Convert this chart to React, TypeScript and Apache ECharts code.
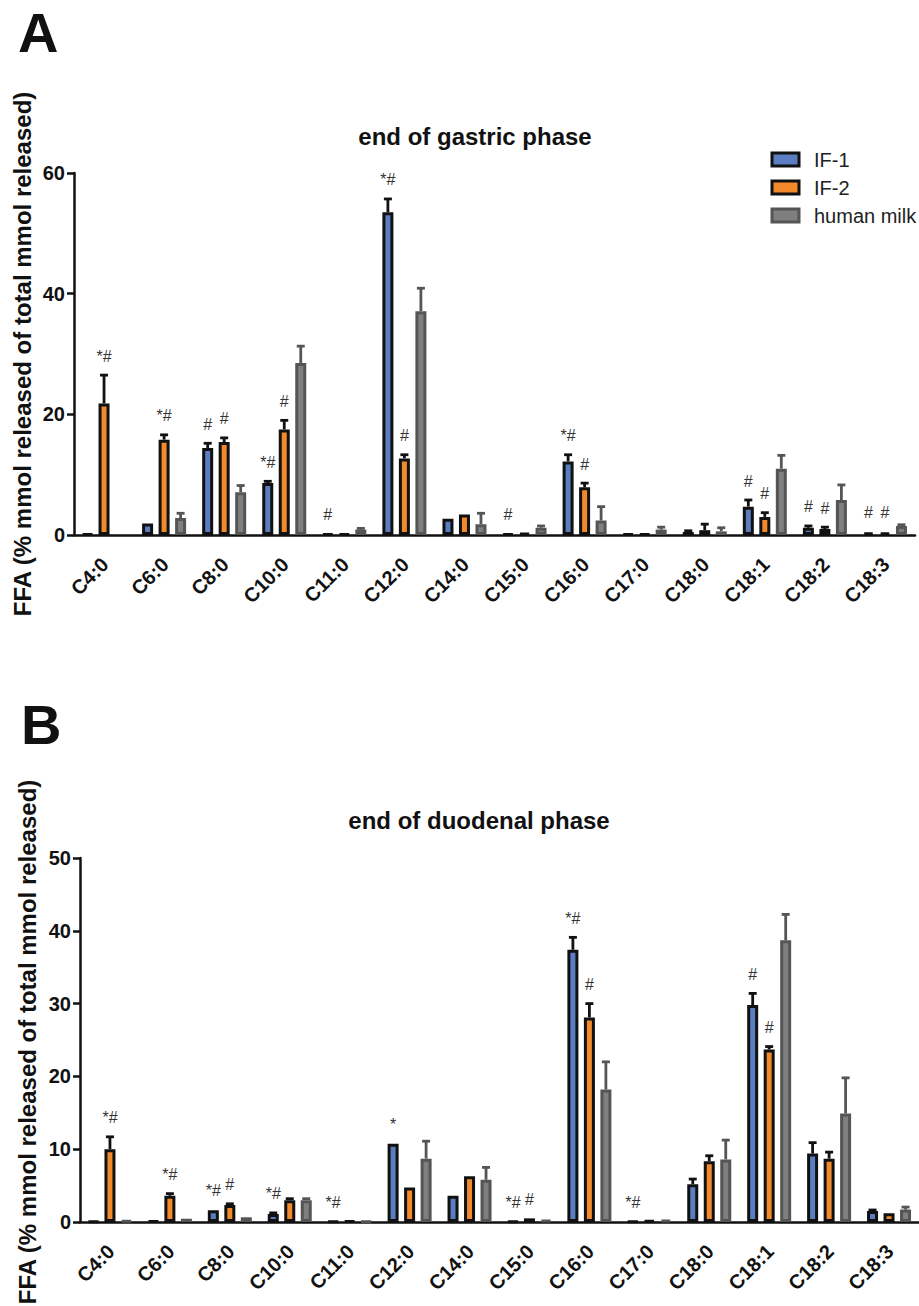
import React, { useEffect, useRef } from "react";
import * as echarts from "echarts";

// ---------- data ----------
const categories = ["C4:0", "C6:0", "C8:0", "C10:0", "C11:0", "C12:0", "C14:0", "C15:0", "C16:0", "C17:0", "C18:0", "C18:1", "C18:2", "C18:3"];
const seriesNames = ["IF-1", "IF-2", "human milk"];

// Panel A: end of gastric phase (mean, SEM-up)
const gastricIF1 = [0.2, 1.9, 14.4, 8.6, 0.2, 53.5, 2.7, 0.2, 12.2, 0.2, 0.5, 4.7, 1.2, 0.4];
const gastricIF1Err = [0, 0, 0.8, 0.3, 0, 2.2, 0.1, 0, 1.1, 0, 0.2, 1.1, 0.3, 0.1];
const gastricIF2 = [21.8, 15.8, 15.4, 17.5, 0.2, 12.7, 3.4, 0.3, 7.9, 0.2, 0.8, 3.0, 1.0, 0.4];
const gastricIF2Err = [4.7, 0.8, 0.7, 1.5, 0, 0.6, 0.1, 0, 0.7, 0, 1.0, 0.7, 0.3, 0.1];
const gastricHM = [null, 2.8, 7.1, 28.5, 0.9, 37.1, 1.8, 1.2, 2.4, 0.9, 0.6, 11.0, 5.8, 1.5];
const gastricHMErr = [0, 0.8, 1.1, 2.8, 0.2, 3.8, 1.8, 0.3, 2.3, 0.4, 0.6, 2.2, 2.5, 0.2];
const gastricIF1Sig = ["", "", "#", "*#", "#", "*#", "", "#", "*#", "", "", "#", "#", "#"];
const gastricIF2Sig = ["*#", "*#", "#", "#", "", "#", "", "", "#", "", "", "#", "#", "#"];
const gastricHMSig = ["", "", "", "", "", "", "", "", "", "", "", "", "", ""];
const gastricTicks = { min: 0, max: 60, interval: 20 };

// Panel B: end of duodenal phase
const duodenalIF1 = [0.1, 0.15, 1.6, 1.1, 0.1, 10.75, 3.6, 0.1, 37.4, 0.1, 5.2, 29.8, 9.4, 1.5];
const duodenalIF1Err = [0, 0, 0.1, 0.15, 0, 0.1, 0.1, 0, 1.7, 0, 0.7, 1.6, 1.5, 0.15];
const duodenalIF2 = [10.0, 3.6, 2.35, 3.0, 0.15, 4.75, 6.3, 0.5, 28.1, 0.2, 8.35, 23.7, 8.7, 1.2];
const duodenalIF2Err = [1.7, 0.3, 0.15, 0.2, 0, 0.1, 0.1, 0, 1.9, 0, 0.75, 0.4, 0.9, 0.1];
const duodenalHM = [0.2, 0.45, 0.65, 3.0, 0.1, 8.7, 5.8, 0.25, 18.2, 0.3, 8.6, 38.7, 14.9, 1.7];
const duodenalHMErr = [0, 0, 0.1, 0.2, 0, 2.4, 1.7, 0, 3.8, 0, 2.65, 3.55, 4.9, 0.35];
const duodenalIF1Sig = ["", "", "*#", "*#", "*#", "*", "", "*#", "*#", "*#", "", "#", "", ""];
const duodenalIF2Sig = ["*#", "*#", "#", "", "", "", "", "#", "#", "", "", "#", "", ""];
const duodenalHMSig = ["", "", "", "", "", "", "", "", "", "", "", "", "", ""];
const duodenalTicks = { min: 0, max: 50, interval: 10 };

const panelTitles = ["end of gastric phase", "end of duodenal phase"];
const yTitle = "FFA (% mmol released of total mmol released)";

// ---------- styling ----------
const FONT = '"Liberation Sans", Arial, Helvetica, sans-serif';
const STYLES = [
  { color: "#5b7ec2", border: "#111111", err: "#111111" },
  { color: "#f28a2c", border: "#111111", err: "#111111" },
  { color: "#7f7f7f", border: "#555555", err: "#555555" },
];
const BAR_W = 11;
const OFFSETS = [-16.5, 0, 16.5];

const panels = [
  {
    grid: { left: 74, width: 841, top: 173, height: 362 },
    ticks: gastricTicks,
    means: [gastricIF1, gastricIF2, gastricHM],
    errs: [gastricIF1Err, gastricIF2Err, gastricHMErr],
    sigs: [gastricIF1Sig, gastricIF2Sig, gastricHMSig],
  },
  {
    grid: { left: 80, width: 839, top: 858, height: 364 },
    ticks: duodenalTicks,
    means: [duodenalIF1, duodenalIF2, duodenalHM],
    errs: [duodenalIF1Err, duodenalIF2Err, duodenalHMErr],
    sigs: [duodenalIF1Sig, duodenalIF2Sig, duodenalHMSig],
  },
];

function buildOption() {
  const grids: any[] = [];
  const xAxes: any[] = [];
  const yAxes: any[] = [];
  const series: any[] = [];

  panels.forEach((p, g) => {
    grids.push({ ...p.grid, containLabel: false });
    xAxes.push({
      type: "category",
      gridIndex: g,
      data: categories,
      axisLine: { lineStyle: { color: "#111", width: 2.5 } },
      axisTick: { alignWithLabel: true, length: 8, lineStyle: { color: "#111", width: 2.5 } },
      axisLabel: { show: false, interval: 0 },
    });
    yAxes.push({
      type: "value",
      gridIndex: g,
      min: p.ticks.min,
      max: p.ticks.max,
      interval: p.ticks.interval,
      splitLine: { show: false },
      axisLine: { show: true, lineStyle: { color: "#111", width: 2.5 } },
      axisTick: { show: true, length: 7, lineStyle: { color: "#111", width: 2.5 } },
      axisLabel: { margin: 9, color: "#111", fontWeight: "bold", fontSize: 20, fontFamily: FONT },
    });

    // category labels, rotated 45 degrees, anchored under each tick
    series.push({
      type: "custom",
      name: "category labels",
      xAxisIndex: g,
      yAxisIndex: g,
      clip: false,
      z: 5,
      encode: { x: 0, y: 1 },
      data: categories.map((c, i) => [i, 0]),
      renderItem: (params: any, api: any) => {
        const pt = api.coord([api.value(0), 0]);
        return {
          type: "text",
          x: pt[0] + 1,
          y: pt[1] + 26,
          rotation: Math.PI / 4,
          style: {
            text: categories[params.dataIndex],
            fill: "#111",
            fontSize: 20,
            fontWeight: "bold",
            fontFamily: FONT,
            align: "right",
            verticalAlign: "middle",
          },
        };
      },
    });

    seriesNames.forEach((name, s) => {
      const st = STYLES[s];
      const means = p.means[s];
      const errs = p.errs[s];
      const sigs = p.sigs[s];
      series.push({
        type: "bar",
        name,
        xAxisIndex: g,
        yAxisIndex: g,
        data: means,
        barWidth: BAR_W,
        barGap: "50%",
        itemStyle: { color: st.color, borderColor: st.border, borderWidth: 3 },
        z: 2,
      });
      // error bars (upper whisker only)
      series.push({
        type: "custom",
        name: name + " error",
        xAxisIndex: g,
        yAxisIndex: g,
        clip: false,
        z: 3,
        encode: { x: 0, y: [1, 2] },
        data: means.map((m, i) => [i, m == null ? 0 : m, (m == null ? 0 : m) + errs[i]]),
        renderItem: (params: any, api: any) => {
          const i = api.value(0);
          const lo = api.coord([i, api.value(1)]);
          const hi = api.coord([i, api.value(2)]);
          if (lo[1] - hi[1] < 1) return { type: "group", children: [] };
          const x = lo[0] + OFFSETS[s];
          const style = { stroke: st.err, lineWidth: 2.8 };
          return {
            type: "group",
            children: [
              { type: "line", shape: { x1: x, y1: lo[1], x2: x, y2: hi[1] }, style },
              { type: "line", shape: { x1: x - 4, y1: hi[1], x2: x + 4, y2: hi[1] }, style },
            ],
          };
        },
      });
      // significance markers
      series.push({
        type: "custom",
        name: name + " significance",
        xAxisIndex: g,
        yAxisIndex: g,
        clip: false,
        z: 4,
        encode: { x: 0, y: 1 },
        data: means.map((m, i) => [i, (m == null ? 0 : m) + errs[i]]),
        renderItem: (params: any, api: any) => {
          const label = sigs[params.dataIndex];
          if (!label) return { type: "group", children: [] };
          const pt = api.coord([api.value(0), api.value(1)]);
          return {
            type: "text",
            x: pt[0] + OFFSETS[s],
            y: pt[1] - 19,
            style: {
              text: label,
              fill: "#333",
              fontSize: 16,
              fontFamily: FONT,
              align: "center",
              verticalAlign: "middle",
            },
          };
        },
      });
    });
  });

  const legendItems: any[] = [];
  seriesNames.forEach((name, s) => {
    const y = 153 + s * 28;
    legendItems.push({
      type: "rect",
      x: 772,
      y,
      shape: { width: 27, height: 13 },
      style: { fill: STYLES[s].color, stroke: STYLES[s].border, lineWidth: 3 },
    });
    legendItems.push({
      type: "text",
      x: 814,
      y: y + 7,
      style: { text: name, fill: "#222", fontSize: 20, fontFamily: FONT, align: "left", verticalAlign: "middle" },
    });
  });

  const graphic: any[] = [
    { type: "text", x: 18, y: 32, style: { text: "A", fill: "#111", fontSize: 56, fontWeight: "bold", fontFamily: FONT, align: "left", verticalAlign: "middle" } },
    { type: "text", x: 21, y: 724, style: { text: "B", fill: "#111", fontSize: 56, fontWeight: "bold", fontFamily: FONT, align: "left", verticalAlign: "middle" } },
    { type: "text", x: 475, y: 136, style: { text: panelTitles[0], fill: "#111", fontSize: 24, fontWeight: "bold", fontFamily: FONT, align: "center", verticalAlign: "middle" } },
    { type: "text", x: 479, y: 820, style: { text: panelTitles[1], fill: "#111", fontSize: 24, fontWeight: "bold", fontFamily: FONT, align: "center", verticalAlign: "middle" } },
    { type: "text", x: 22, y: 354, rotation: Math.PI / 2, style: { text: yTitle, fill: "#111", fontSize: 24, fontWeight: "bold", fontFamily: FONT, align: "center", verticalAlign: "middle" } },
    { type: "text", x: 27, y: 1042, rotation: Math.PI / 2, style: { text: yTitle, fill: "#111", fontSize: 24, fontWeight: "bold", fontFamily: FONT, align: "center", verticalAlign: "middle" } },
    ...legendItems,
  ];

  return {
    animation: false,
    backgroundColor: "#ffffff",
    grid: grids,
    xAxis: xAxes,
    yAxis: yAxes,
    series,
    graphic,
  };
}

export default function App() {
  const ref = useRef<HTMLDivElement>(null);
  useEffect(() => {
    document.body.style.margin = "0";
    if (!ref.current) return;
    const chart = echarts.init(ref.current, undefined, { renderer: "svg" });
    chart.setOption(buildOption() as any);
    return () => chart.dispose();
  }, []);
  return <div ref={ref} style={{ width: 919, height: 1306 }} />;
}
